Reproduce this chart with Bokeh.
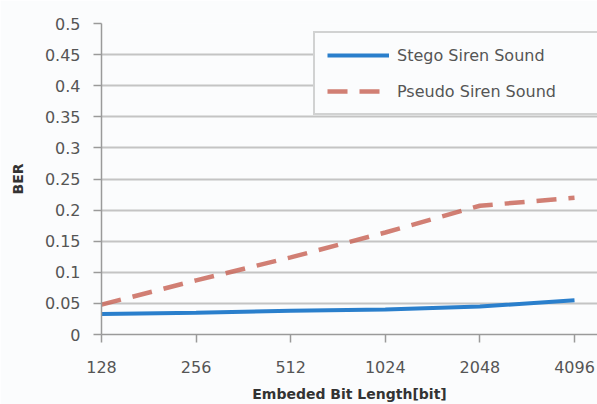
from bokeh.plotting import figure
from bokeh.models import ColumnDataSource, Legend, LegendItem, FixedTicker, Range1d
from bokeh.embed import file_html
from bokeh.resources import INLINE

categories = ["128", "256", "512", "1024", "2048", "4096"]
stego = [0.033, 0.035, 0.038, 0.040, 0.045, 0.055]
pseudo = [0.048, 0.087, 0.124, 0.164, 0.207, 0.220]
y_ticks = [0, 0.05, 0.1, 0.15, 0.2, 0.25, 0.3, 0.35, 0.4, 0.45, 0.5]
y_labels = ["0", "0.05", "0.1", "0.15", "0.2", "0.25", "0.3", "0.35", "0.4", "0.45", "0.5"]

xs = list(range(len(categories)))
src = ColumnDataSource(dict(x=xs, stego=stego, pseudo=pseudo))

FONT = "DejaVu Sans"

p = figure(width=597, height=404, output_backend="svg", toolbar_location=None,
           x_range=Range1d(0, 5.243), y_range=Range1d(0, 0.5),
           min_border_left=101, min_border_right=0, min_border_top=23, min_border_bottom=70)
p.background_fill_color = "#fbfcfd"
p.border_fill_color = "#fbfcfd"
p.outline_line_color = None

l1 = p.line("x", "stego", source=src, line_color="#2a7fcc", line_width=4)
l2 = p.line("x", "pseudo", source=src, line_color="#c9685c", line_width=4.5,
            line_dash="20 12", line_alpha=0.85)

p.xaxis.ticker = FixedTicker(ticks=xs)
p.xaxis.major_label_overrides = {i: c for i, c in enumerate(categories)}
p.yaxis.ticker = FixedTicker(ticks=y_ticks)
p.yaxis.major_label_overrides = {t: l for t, l in zip(y_ticks, y_labels)}

for ax in (p.xaxis[0], p.yaxis[0]):
    ax.axis_line_color = "#9a9a9a"
    ax.axis_line_width = 1.5
    ax.major_tick_line_color = "#9a9a9a"
    ax.major_tick_line_width = 1.5
    ax.major_tick_in = 0
    ax.major_tick_out = 8
    ax.minor_tick_line_color = None
    ax.major_label_text_font = FONT
    ax.major_label_text_font_size = "16px"
    ax.major_label_text_color = "#555555"
    ax.axis_label_text_font = FONT
    ax.axis_label_text_font_style = "bold"
    ax.axis_label_text_font_size = "14px"
    ax.axis_label_text_color = "#333333"

p.xaxis.axis_label = "Embeded Bit Length[bit]"
p.yaxis.axis_label = "BER"
p.xaxis.major_label_standoff = 18
p.xaxis.axis_label_standoff = 10
p.yaxis.major_label_standoff = 13
p.yaxis.axis_label_standoff = 16

p.xgrid.grid_line_color = None
p.ygrid.grid_line_color = "#c4c4c4"
p.ygrid.grid_line_width = 2

legend = Legend(items=[LegendItem(label="Stego Siren Sound", renderers=[l1]),
                       LegendItem(label="Pseudo Siren Sound", renderers=[l2])],
                location=(212, 219))
legend.label_text_font = FONT
legend.label_text_font_size = "16px"
legend.label_text_color = "#555555"
legend.glyph_width = 62
legend.glyph_height = 20
legend.label_standoff = 8
legend.spacing = 16
legend.padding = 12
legend.margin = 0
legend.border_line_color = "#a8a8a8"
legend.border_line_width = 2.5
legend.background_fill_color = "#fbfcfd"
legend.background_fill_alpha = 1
legend.label_width = 190
p.add_layout(legend, "center")

open("out.html", "w").write(file_html(p, INLINE))
